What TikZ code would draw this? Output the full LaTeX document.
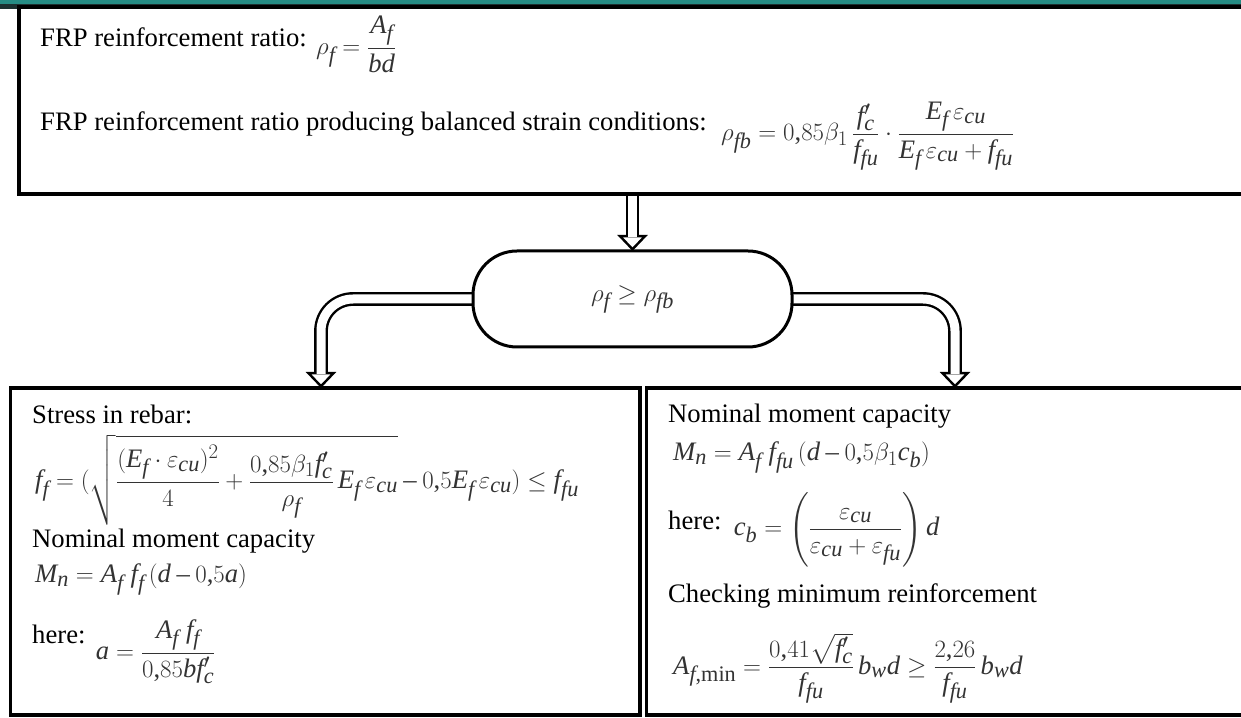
\documentclass[tikz,border=0pt]{standalone}
\usepackage{amsmath}
\usepackage{fontspec}
\setmainfont{Liberation Serif}
\usepackage[italic]{mathastext}
\usetikzlibrary{arrows.meta,positioning,backgrounds}
\definecolor{slideteal}{RGB}{38,140,132}
\definecolor{slidedark}{RGB}{28,48,48}
\tikzset{
  panel/.style={draw, line width=3.5pt, outer sep=0pt, inner sep=0pt, anchor=north west},
  condbox/.style={draw, line width=3pt, fill=white, rounded corners=44pt, outer sep=0pt,
    minimum width=319pt, minimum height=96pt, inner sep=0pt, text=black!80},
  txt/.style={inner sep=0pt, anchor=base west},
  frm/.style={inner sep=0pt, anchor=base west, text=black!80},
  shaft/.style={draw=black, line width=2.4pt, double=white, double distance=9pt, rounded corners=32pt},
  tipline/.style={line width=2.4pt, rounded corners=32pt,
    -{Triangle[open, fill=white, length=16pt, width=30pt]}},
}
\begin{document}
\begin{tikzpicture}[x=1pt, y=1pt, font=\fontsize{26.67}{32}\selectfont]
  \useasboundingbox (0,0) rectangle (1241,717);
  \clip (0,0) rectangle (1241,717);
  \fill[slideteal] (0,717) rectangle (1241,712.5);
  \fill[slidedark] (0,712.5) rectangle (1241,708);

  \node[panel, line width=4pt, minimum width=1240pt, minimum height=187.5pt] (frp) at (19,710) {};
  \node[txt] (ratio) at (40,670) {FRP reinforcement ratio:};
  \node[frm] (ratioeq) at ([xshift=9pt, yshift=-8pt]ratio.base east) {$\rho_f = \dfrac{A_f}{bd}$};
  \node[txt] (balanced) at (40,586) {FRP reinforcement ratio producing balanced strain conditions:};
  \node[frm] (balancedeq) at ([xshift=14pt, yshift=-10pt]balanced.base east)
    {$\rho_{fb} = 0{,}85\beta_1\,\dfrac{f_c^{\prime}}{f_{fu}}\cdot\dfrac{E_f\,\varepsilon_{cu}}{E_f\,\varepsilon_{cu}+f_{fu}}$};

  \node[condbox] (cond) at (632.5,418) {$\rho_f \geq \rho_{fb}$};

  \node[panel, minimum width=629.5pt, minimum height=327pt] (crushbox) at (10.5,329) {};
  \node[txt] (stress) at (32,293) {Stress in rebar:};
  \node[frm] (stresseq) at (35,228)
    {$f_f = (\sqrt{\dfrac{(E_f\cdot\varepsilon_{cu})^2}{4} + \dfrac{0{,}85\beta_1 f_c^{\prime}}{\rho_f}\,E_f\,\varepsilon_{cu}} - 0{,}5E_f\,\varepsilon_{cu}) \leq f_{fu}$};
  \node[txt] (moment) at (32,169) {Nominal moment capacity};
  \node[frm] (momenteq) at (35,134) {$M_n = A_f\;f_f\,(d - 0{,}5a)$};
  \node[txt] (depth) at (32,74) {here:};
  \node[frm] (deptheq) at ([xshift=10pt, yshift=-17pt]depth.base east) {$a = \dfrac{A_f\;f_f}{0{,}85bf_c^{\prime}}$};

  \node[panel, minimum width=610pt, minimum height=327pt] (rupturebox) at (646.5,329) {};
  \node[txt] (nominal) at (668,294) {Nominal moment capacity};
  \node[frm] (nominaleq) at (673,256) {$M_n = A_f\;f_{fu}\,(d - 0{,}5\beta_1 c_b)$};
  \node[txt] (neutral) at (668,187) {here:};
  \node[frm] (neutraleq) at ([xshift=12pt, yshift=-6pt]neutral.base east)
    {$c_b = \left(\dfrac{\varepsilon_{cu}}{\varepsilon_{cu}+\varepsilon_{fu}}\right)d$};
  \node[txt] (minimum) at (668,114) {Checking minimum reinforcement};
  \node[frm] (minimumeq) at (673,43)
    {$A_{f,\min} = \dfrac{0{,}41\sqrt{f_c^{\prime}}}{f_{fu}}\,b_w d \geq \dfrac{2{,}26}{f_{fu}}\,b_w d$};

  \coordinate (lefttip) at (321,329);
  \coordinate (righttip) at (955,329);

  \begin{scope}[on background layer]
    \draw[tipline] (cond.north |- frp.south) -- (cond.north);
    \draw[shaft, shorten >=14pt] (cond.north |- frp.south) -- (cond.north);
    \draw[tipline] (cond.west) -| (lefttip);
    \draw[shaft, shorten >=14pt] (cond.west) -| (lefttip);
    \draw[tipline] (cond.east) -| (righttip);
    \draw[shaft, shorten >=14pt] (cond.east) -| (righttip);
  \end{scope}
\end{tikzpicture}
\end{document}
